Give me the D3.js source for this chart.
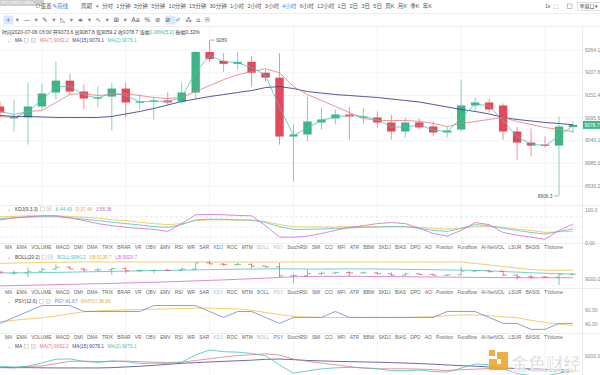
<!DOCTYPE html>
<html>
<head>
<meta charset="utf-8">
<script src="https://cdn.jsdelivr.net/npm/d3@7"></script>
<style>
  body { margin: 0; background: #fff; }
  svg { display: block; font-family: "Liberation Sans", "Noto Sans CJK SC", sans-serif; }
</style>
</head>
<body>
<script>
// 4h candles BTC/USDT
const opens  = [9123.9, 9094.5, 9097.0, 9123.9, 9158.4, 9187.8, 9160.8, 9143.6, 9148.5, 9168.2, 9133.8, 9136.2, 9138.7, 9136.2, 9158.4, 9259.1, 9237.0, 9229.6, 9234.5, 9207.5, 9195.2, 9050.2, 9055.2, 9084.6, 9094.5, 9104.3, 9097.0, 9097.0, 9084.6, 9062.5, 9084.6, 9074.8, 9060.1, 9067.4, 9126.4, 9133.8, 9126.4, 9062.5, 9035.5, 9030.6, 9028.1, 9073.6];
const highs  = [9136.2, 9141.2, 9182.9, 9180.5, 9234.5, 9205.0, 9178.0, 9173.1, 9182.9, 9182.9, 9153.4, 9148.5, 9158.4, 9182.9, 9261.0, 9289.0, 9256.6, 9259.1, 9249.3, 9214.9, 9256.6, 9079.7, 9148.5, 9121.5, 9116.6, 9123.9, 9121.5, 9111.7, 9104.3, 9097.0, 9094.5, 9087.1, 9074.8, 9190.3, 9146.1, 9143.6, 9131.3, 9074.8, 9069.9, 9050.2, 9099.4, 9087.8];
const lows   = [9101.8, 9062.5, 9030.6, 9116.6, 9141.2, 9153.4, 9116.6, 9121.5, 9065.0, 9097.0, 9116.6, 9092.0, 9126.4, 9128.9, 9141.2, 9234.5, 9210.0, 9214.9, 9173.1, 9185.4, 9030.6, 8942.1, 9038.0, 9067.4, 9079.7, 9042.9, 9079.7, 9072.4, 9042.9, 9047.8, 9067.4, 9050.2, 9047.8, 9062.5, 9111.7, 9109.2, 9042.9, 8993.7, 9001.1, 9023.2, 8906.3, 9059.2];
const closes = [9109.2, 9099.4, 9123.9, 9155.9, 9187.8, 9160.8, 9143.6, 9146.1, 9168.2, 9133.8, 9136.2, 9138.7, 9133.8, 9158.4, 9259.1, 9241.9, 9229.6, 9234.5, 9207.5, 9195.2, 9050.2, 9055.2, 9087.1, 9092.0, 9104.3, 9099.4, 9099.4, 9084.6, 9062.5, 9084.6, 9072.4, 9060.1, 9065.0, 9126.4, 9133.8, 9116.6, 9062.5, 9035.5, 9028.1, 9028.1, 9074.8, 9078.7];

// moving averages
const ma7  = [9099.4, 9097.0, 9111.7, 9114.1, 9133.8, 9153.4, 9155.9, 9151.0, 9153.4, 9155.9, 9151.0, 9146.1, 9143.6, 9146.1, 9160.8, 9175.5, 9190.3, 9202.6, 9210.0, 9217.3, 9207.5, 9173.1, 9153.4, 9138.7, 9123.9, 9109.2, 9094.5, 9089.6, 9089.6, 9089.6, 9087.1, 9082.2, 9074.8, 9082.2, 9087.1, 9092.0, 9097.0, 9087.1, 9079.7, 9072.4, 9067.4, 9062.2];
const ma15 = [9101.8, 9099.4, 9099.4, 9098.2, 9097.0, 9097.0, 9097.0, 9097.0, 9099.4, 9105.5, 9111.7, 9119.0, 9127.6, 9136.2, 9142.4, 9148.5, 9153.4, 9158.4, 9163.3, 9170.6, 9173.1, 9168.2, 9160.8, 9157.1, 9153.4, 9151.0, 9148.5, 9146.1, 9142.4, 9138.7, 9135.0, 9128.9, 9122.7, 9116.6, 9111.7, 9105.5, 9097.0, 9092.0, 9088.4, 9084.6, 9082.2, 9079.1];
const ma2  = [9111.7, 9104.3, 9111.7, 9139.9, 9171.9, 9174.3, 9152.2, 9144.8, 9157.1, 9151.0, 9135.0, 9137.5, 9136.2, 9146.1, 9208.7, 9250.5, 9235.7, 9232.1, 9221.0, 9201.3, 9122.7, 9052.7, 9071.1, 9089.6, 9098.2, 9101.8, 9099.4, 9092.0, 9073.6, 9073.6, 9078.5, 9066.2, 9062.5, 9095.7, 9130.1, 9125.2, 9089.6, 9049.0, 9031.8, 9028.1, 9051.5, 9076.1];

// KDJ(9,3,3)
const kdjK = [74, 77, 79, 80, 80, 77, 73, 69, 64, 60, 56, 51, 49, 57, 71, 73, 73, 71, 71, 63, 51, 43, 43, 44, 46, 47, 49, 50, 51, 51, 46, 40, 37, 46, 57, 54, 46, 40, 34, 29, 37, 44.43];
const kdjD = [80, 81, 83, 83, 83, 81, 79, 76, 71, 69, 64, 60, 57, 60, 69, 71, 71, 70, 69, 66, 57, 51, 50, 50, 50, 51, 51, 51, 51, 51, 49, 46, 44, 46, 51, 51, 49, 44, 40, 34, 36, 37.46];
const kdjJ = [71, 77, 80, 83, 83, 77, 69, 60, 54, 49, 46, 43, 37, 60, 86, 87, 86, 84, 83, 54, 20, 20, 23, 31, 40, 49, 54, 60, 63, 60, 46, 31, 23, 40, 63, 57, 34, 26, 20, 14, 40, 58.38];

// BOLL(20,2)
const bollUp  = [9250, 9255, 9260, 9265, 9268, 9270, 9272, 9272, 9272, 9272, 9272, 9272, 9272, 9272, 9272, 9272, 9272, 9272, 9272, 9272, 9272, 9272, 9272, 9272, 9272, 9272, 9272, 9272, 9272, 9272, 9272, 9272, 9272, 9272, 9250, 9225, 9200, 9175, 9152, 9141, 9140, 9139.7];
const bollMid = [9096, 9098, 9100, 9103, 9106, 9110, 9114, 9118, 9122, 9126, 9130, 9134, 9138, 9142, 9146, 9150, 9154, 9157, 9160, 9162, 9163, 9162, 9160, 9160, 9161, 9162, 9162, 9161, 9158, 9155, 9152, 9148, 9145, 9142, 9138, 9130, 9120, 9110, 9100, 9092, 9085, 9080.2];
const bollLow = [8890, 8895, 8900, 8905, 8910, 8915, 8920, 8925, 8930, 8936, 8942, 8948, 8955, 8962, 8970, 8978, 8986, 8995, 9004, 9014, 9025, 9035, 9040, 9042, 9043, 9043, 9042, 9040, 9038, 9036, 9034, 9032, 9030, 9028, 9026, 9024, 9022, 9021, 9020, 9020, 9020, 9020.7];

// PSY(12,6)
const psy   = [41.67, 50, 58.33, 66.67, 66.67, 66.67, 58.33, 58.33, 58.33, 58.33, 58.33, 66.67, 66.67, 66.67, 66.67, 58.33, 50, 58.33, 58.33, 50, 41.67, 50, 50, 50, 58.33, 50, 50, 50, 50, 50, 50, 50, 58.33, 58.33, 58.33, 50, 41.67, 41.67, 33.33, 33.33, 41.67, 41.67];
const mapsy = [44, 46, 48, 49.5, 52, 55, 58, 59, 60, 60.5, 61, 61.5, 62, 62.5, 63, 63, 62.5, 62, 60, 57, 54, 51.5, 50.5, 50, 50, 50, 50, 50, 50, 50, 50.5, 51, 52.5, 53.5, 53.5, 52.5, 51, 49.5, 46, 43, 40.5, 38.89];

// axis ticks
const priceTicks = [9264.1, 9207.6, 9151.4, 9095.6, 9040.1, 8985.0, 8930.2];
const gridEvery = 6;

const periods = ["分时", "1分钟", "3分钟", "5分钟", "10分钟", "15分钟", "30分钟", "1小时", "2小时", "3小时", "4小时", "6小时", "12小时", "1日", "2日", "3日", "5日", "周K", "月K", "季K", "年K"];
const indicators = ["MA", "EMA", "VOLUME", "MACD", "DMI", "DMA", "TRIX", "BRAR", "VR", "OBV", "EMV", "RSI", "WR", "SAR", "KDJ", "ROC", "MTM", "BOLL", "PSY", "StochRSI", "SMI", "CCI", "MFI", "ATR", "BBW", "SKDJ", "BIAS", "DPO", "AO", "Position", "Fundflow", "AI-NetVOL", "LSUR", "BASIS", "TVolume"];
const drawTools = ["+", "▾", "—", "▾", "✎", "▾", "◺", "▾", "≑", "▾", "∿", "▾", "⊞", "▾", "Aa", "%", "⊘", "⊘", "✐", "⁂", "⌂", "⎘"];

const width = 600, height = 375;
const axisX = 582.5;
const green = "#3fb584", red = "#e3495b";
const cMA7 = "#e8787a", cMA15 = "#40458f", cMA2 = "#47c2bd";
const cYellow = "#f0c24a", cPink = "#d66ad3", cBlue = "#6f86d6", cTeal = "#4cc3bf";

const svg = d3.select("body").append("svg")
  .attr("width", width).attr("height", height);

// x scale shared by all panels
const n = closes.length;
const x = d3.scaleLinear().domain([0, n - 1]).range([0, 573]);
const gridIdx = d3.range(3, n, gridEvery);

// little helper: lay words out left to right filling [x0, x1]
function flow(g, words, yy, x0, x1, size, color) {
  const nodes = words.map(w => g.append("text")
    .attr("y", yy).attr("dy", "0.35em")
    .attr("font-size", size)
    .attr("fill", typeof color === "function" ? color(w) : color)
    .text(w));
  const ws = nodes.map(t => t.node().getComputedTextLength());
  const gap = (x1 - x0 - d3.sum(ws)) / (words.length - 1);
  let cx = x0;
  nodes.forEach((t, i) => { t.attr("x", cx); cx += ws[i] + gap; });
  return nodes;
}

// ---------- top toolbar ----------
const toolbar = svg.append("g");
toolbar.append("line").attr("x1", 0).attr("x2", width).attr("y1", 13.5).attr("y2", 13.5).attr("stroke", "#eee");
toolbar.append("line").attr("x1", 0).attr("x2", width).attr("y1", 26.5).attr("y2", 26.5).attr("stroke", "#f0f0f0");

toolbar.append("rect").attr("x", 0).attr("y", 0).attr("width", 44).attr("height", 6).attr("fill", "#9aa0a6").attr("opacity", 0.5);
toolbar.append("text").attr("x", 1.5).attr("y", 3).attr("dy", "0.35em").attr("font-size", 4).attr("fill", "#fff").text("BTC/USDT OKEx");

toolbar.append("rect").attr("x", 36.5).attr("y", 4.5).attr("width", 3).attr("height", 3).attr("fill", "none").attr("stroke", "#888").attr("stroke-width", 0.5);
toolbar.append("text").attr("x", 40.5).attr("y", 6.5).attr("dy", "0.35em").attr("font-size", 5.5).attr("fill", "#555").text("设置");
toolbar.append("text").attr("x", 52).attr("y", 6.5).attr("dy", "0.35em").attr("font-size", 5.5).attr("fill", "#3d7fe0").text("✎画线");
toolbar.append("text").attr("x", 81).attr("y", 6.5).attr("dy", "0.35em").attr("font-size", 5.5).attr("fill", "#555").text("周期");
toolbar.append("text").attr("x", 95.5).attr("y", 6.5).attr("dy", "0.35em").attr("font-size", 4.5).attr("fill", "#777").text("▾");
flow(toolbar, periods, 6.5, 102, 432, 5.5, p => p === "4小时" ? "#3d7fe0" : "#555");

toolbar.append("text").attr("x", 545).attr("y", 6.5).attr("dy", "0.35em").attr("font-size", 5).attr("fill", "#555").text("1s");
toolbar.append("text").attr("x", 554).attr("y", 6.5).attr("dy", "0.35em").attr("font-size", 6).attr("fill", "#777").text("⛶");
toolbar.append("rect").attr("x", 567.5).attr("y", 4).attr("width", 4.5).attr("height", 4.5).attr("fill", "none").attr("stroke", "#888").attr("stroke-width", 0.5);
toolbar.append("rect").attr("x", 577.5).attr("y", 2.5).attr("width", 24).attr("height", 8).attr("fill", "#fff").attr("stroke", "#ccc").attr("stroke-width", 0.6);
toolbar.append("text").attr("x", 579.5).attr("y", 6.5).attr("dy", "0.35em").attr("font-size", 5).attr("fill", "#444").text("单窗口▾");

// drawing tools row
toolbar.append("rect").attr("x", 3.5).attr("y", 15.5).attr("width", 10).attr("height", 9).attr("fill", "#dde9fb");
toolbar.append("rect").attr("x", 165.5).attr("y", 15.5).attr("width", 10).attr("height", 9).attr("fill", "#dde9fb");
const tools = toolbar.append("g").style("font-family", "'DejaVu Sans', 'Noto Sans CJK SC', sans-serif");
flow(tools, drawTools, 20, 5.5, 210, 6.5, t => (t === "+" || t === "✐") ? "#3d7fe0" : (t === "▾" ? "#888" : "#555"));

// info row
const info = toolbar.append("text").attr("x", 2).attr("y", 32.5).attr("dy", "0.35em").attr("font-size", 5).attr("fill", "#444");
info.append("tspan").text("时间2020-07-06 08:00 开9073.6 高9087.8 低9059.2 收9078.7 涨幅");
info.append("tspan").attr("fill", green).text("0.06%(5.2)");
info.append("tspan").text(" 振幅0.32%");

// indicator header (caret, name, two small boxes, coloured values)
function header(yy, name, parts) {
  const g = svg.append("g");
  g.append("text").attr("x", 7).attr("y", yy).attr("dy", "0.35em").attr("font-size", 5).attr("fill", "#888").text("⌄");
  const t = g.append("text").attr("x", 15).attr("y", yy).attr("dy", "0.35em").attr("font-size", 4.8).attr("fill", "#444").text(name);
  let cx = 15 + t.node().getComputedTextLength() + 2.5;
  [0, 1].forEach(k => {
    g.append("rect").attr("x", cx).attr("y", yy - 2).attr("width", 4).attr("height", 4)
      .attr("fill", "#fff").attr("stroke", "#bbb").attr("stroke-width", 0.5);
    if (k === 1) {
      g.append("path").attr("d", `M${cx + 1},${yy - 1}L${cx + 3},${yy + 1}M${cx + 3},${yy - 1}L${cx + 1},${yy + 1}`)
        .attr("stroke", "#aaa").attr("stroke-width", 0.4);
    }
    cx += 6.5;
  });
  cx += 2;
  parts.forEach(p => {
    const tt = g.append("text").attr("x", cx).attr("y", yy).attr("dy", "0.35em").attr("font-size", 4.8).attr("fill", p[1]).text(p[0]);
    cx += tt.node().getComputedTextLength() + 3.5;
  });
}

// common frame bits for a panel
function panelFrame(y0, y1) {
  svg.append("g").selectAll("line").data(gridIdx).join("line")
    .attr("x1", d => x(d)).attr("x2", d => x(d))
    .attr("y1", y0).attr("y2", y1)
    .attr("stroke", "#f1f3f5");
  svg.append("line").attr("x1", 0).attr("x2", width).attr("y1", y1 + 0.5).attr("y2", y1 + 0.5).attr("stroke", "#eceef0");
}

function clip(id, y0, y1) {
  svg.append("clipPath").attr("id", id).append("rect")
    .attr("x", 0).attr("y", y0).attr("width", axisX).attr("height", y1 - y0);
  return svg.append("g").attr("clip-path", `url(#${id})`);
}

function axisLabel(yy, text) {
  svg.append("text").attr("x", 585).attr("y", yy).attr("dy", "0.35em")
    .attr("font-size", 5).attr("fill", "#888").text(text);
}

function drawLine(g, data, yScale, color, w) {
  g.append("path").datum(data)
    .attr("fill", "none").attr("stroke", color).attr("stroke-width", w || 0.8)
    .attr("d", d3.line().x((d, i) => x(i)).y(d => yScale(d)));
}

// ---------- main chart ----------
const y = d3.scaleLog().domain([8930.2, 9264.1]).range([186, 50]);

panelFrame(27, 205);
svg.append("g").selectAll("line").data(priceTicks).join("line")
  .attr("x1", 0).attr("x2", axisX).attr("y1", d => y(d)).attr("y2", d => y(d))
  .attr("stroke", "#f1f3f5");
priceTicks.forEach(t => axisLabel(y(t), t.toFixed(1)));

const main = clip("mainClip", 27, 205);
const candles = d3.range(n).map(i => ({ i, o: opens[i], h: highs[i], l: lows[i], c: closes[i] }));

main.append("g").selectAll("line").data(candles).join("line")
  .attr("x1", d => x(d.i)).attr("x2", d => x(d.i))
  .attr("y1", d => y(d.h)).attr("y2", d => y(d.l))
  .attr("stroke", d => d.c >= d.o ? green : red)
  .attr("stroke-opacity", 0.75)
  .attr("stroke-width", 0.8);

main.append("g").selectAll("rect").data(candles).join("rect")
  .attr("x", d => x(d.i) - 4.2)
  .attr("width", 8.4)
  .attr("y", d => y(Math.max(d.o, d.c)))
  .attr("height", d => Math.max(1.2, Math.abs(y(d.o) - y(d.c))))
  .attr("fill", d => d.c >= d.o ? green : red);

drawLine(main, ma15, y, cMA15, 0.9);
drawLine(main, ma7, y, cMA7, 0.8);
drawLine(main, ma2, y, cMA2, 0.8);

// high / low marks
const hiI = d3.maxIndex(highs), loI = d3.minIndex(lows);
main.append("line").attr("x1", x(hiI) + 1).attr("x2", x(hiI) + 5).attr("y1", y(highs[hiI])).attr("y2", y(highs[hiI])).attr("stroke", "#555").attr("stroke-width", 0.5);
main.append("text").attr("x", x(hiI) + 6.5).attr("y", y(highs[hiI])).attr("dy", "0.35em").attr("font-size", 4.8).attr("fill", "#555").text(d3.format(".0f")(highs[hiI]));
main.append("line").attr("x1", x(loI) - 5).attr("x2", x(loI) - 1).attr("y1", y(lows[loI])).attr("y2", y(lows[loI])).attr("stroke", "#555").attr("stroke-width", 0.5);
main.append("text").attr("x", x(loI) - 6.5).attr("y", y(lows[loI])).attr("dy", "0.35em").attr("text-anchor", "end").attr("font-size", 4.8).attr("fill", "#555").text(lows[loI].toFixed(1));

// last price tag
const last = closes[n - 1];
svg.append("rect").attr("x", axisX).attr("y", y(last) - 4).attr("width", 18).attr("height", 8).attr("fill", green);
svg.append("text").attr("x", 584.5).attr("y", y(last)).attr("dy", "0.35em").attr("font-size", 5).attr("fill", "#fff").text(last.toFixed(1));

header(40.5, "MA", [["MA(7):" + ma7[n - 1], cMA7], ["MA(15):" + ma15[n - 1], cMA15], ["MA(2):" + ma2[n - 1], cMA2]]);

// ---------- KDJ ----------
const yK = d3.scaleLinear().domain([0, 100]).range([244, 210]);
panelFrame(205, 243);
svg.append("g").selectAll("line").data([20, 50, 80]).join("line")
  .attr("x1", 0).attr("x2", axisX).attr("y1", d => yK(d)).attr("y2", d => yK(d))
  .attr("stroke", "#cfd3d8").attr("stroke-width", 0.5).attr("stroke-dasharray", "3,2");
axisLabel(210, "100.0");
axisLabel(243.5, "0.00");
const kdj = clip("kdjClip", 205, 243);
drawLine(kdj, kdjD, yK, cYellow);
drawLine(kdj, kdjK, yK, cTeal);
drawLine(kdj, kdjJ, yK, cPink);
header(209, "KDJ(9,3,3)", [["K:" + kdjK[n - 1], cTeal], ["D:" + kdjD[n - 1], "#e8b030"], ["J:" + kdjJ[n - 1], cPink]]);

// tab rows between panels
const used = ["KDJ", "BOLL", "PSY"];
function tabRow(yRow, active) {
  const g = svg.append("g");
  flow(g, indicators, yRow, 5, 563, 4.8, w => w === active ? "#3d7fe0" : (used.includes(w) ? "#bbb" : "#666"));
}
tabRow(247.5, "KDJ");

// ---------- BOLL ----------
const yB = d3.scaleLinear().domain([9000, 9288]).range([279, 261]);
panelFrame(251, 288);
axisLabel(279, "9000.0");
const boll = clip("bollClip", 251, 288);
drawLine(boll, bollUp, yB, cYellow);
drawLine(boll, bollMid, yB, cTeal);
drawLine(boll, bollLow, yB, cPink);
const bars = boll.append("g").selectAll("g").data(candles).join("g")
  .attr("stroke", d => d.c >= d.o ? green : red).attr("stroke-width", 0.7);
bars.append("line").attr("x1", d => x(d.i)).attr("x2", d => x(d.i)).attr("y1", d => yB(d.h)).attr("y2", d => yB(d.l));
bars.append("line").attr("x1", d => x(d.i) - 3.5).attr("x2", d => x(d.i)).attr("y1", d => yB(d.o)).attr("y2", d => yB(d.o));
bars.append("line").attr("x1", d => x(d.i)).attr("x2", d => x(d.i) + 3.5).attr("y1", d => yB(d.c)).attr("y2", d => yB(d.c));
header(257, "BOLL(20,2)", [["BOLL:" + bollMid[n - 1], cTeal], ["UB:" + bollUp[n - 1], "#e8b030"], ["LB:" + bollLow[n - 1], cPink]]);
tabRow(292.5, "BOLL");

// ---------- PSY ----------
const yP = d3.scaleLinear().domain([40, 60]).range([324.6, 310.3]);
panelFrame(296, 333);
axisLabel(310.3, "60.00");
axisLabel(324.6, "40.00");
const psyG = clip("psyClip", 296, 333);
drawLine(psyG, mapsy, yP, cYellow);
drawLine(psyG, psy, yP, cBlue);
header(301.5, "PSY(12,6)", [["PSY:" + psy[n - 1], cBlue], ["MAPSY:" + mapsy[n - 1], "#e8b030"]]);
tabRow(337.5, "PSY");

// ---------- MA sub panel ----------
const yM = d3.scaleLinear().domain([9100, 9200]).range([367.6, 355.9]);
panelFrame(341, 375);
const maG = clip("maClip", 341, 375);
drawLine(maG, ma15, yM, cMA15);
drawLine(maG, ma7, yM, cMA7);
drawLine(maG, ma2, yM, cMA2);
header(346.5, "MA", [["MA(7):" + ma7[n - 1], cMA7], ["MA(15):" + ma15[n - 1], cMA15], ["MA(2):" + ma2[n - 1], cMA2]]);

// right axis border
svg.append("line").attr("x1", axisX).attr("x2", axisX).attr("y1", 27).attr("y2", height).attr("stroke", "#e8eaed");

// ---------- watermark ----------
const wm = svg.append("g").attr("opacity", 0.9);
wm.append("rect").attr("x", 489).attr("y", 350).attr("width", 6).attr("height", 6).attr("fill", "#f2a531");
wm.append("path").attr("d", "M497,352h11v18h-19v-11h8z").attr("fill", "#f2a531");
wm.append("rect").attr("x", 497).attr("y", 359).attr("width", 4).attr("height", 5).attr("fill", "#fff");
wm.append("text").attr("x", 511).attr("y", 369.5).attr("font-size", 17.5)
  .attr("font-family", "Noto Sans CJK SC").attr("font-weight", "bold")
  .attr("fill", "#d3d3d3").attr("stroke", "#fff").attr("stroke-width", 0.8)
  .text("金色财经");

// axis label of the bottom MA panel sits right of the watermark
axisLabel(356, "9200.0");
</script>
</body>
</html>
